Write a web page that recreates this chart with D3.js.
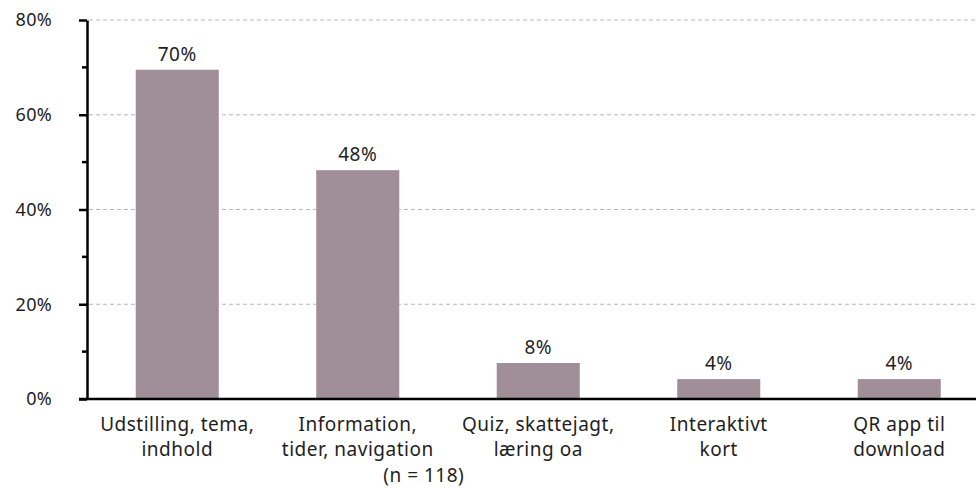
<!DOCTYPE html>
<html>
<head>
<meta charset="utf-8">
<script src="https://cdn.jsdelivr.net/npm/d3@7"></script>
<style>
  body { margin: 0; background: #fff; }
  svg text { font-family: 'Noto Sans', sans-serif; fill: #1e1e1e; }
</style>
</head>
<body>
<svg id="chart" width="976" height="488"></svg>
<script>
// categories (two-line labels) and shares of respondents, n = 118
const categories = [
  ['Udstilling, tema,', 'indhold'],
  ['Information,', 'tider, navigation'],
  ['Quiz, skattejagt,', 'læring oa'],
  ['Interaktivt', 'kort'],
  ['QR app til', 'download']
]
const values = [69.5, 48.3, 7.6, 4.2, 4.2]
const valueLabels = ['70%', '48%', '8%', '4%', '4%']
const majorTicks = [0, 20, 40, 60, 80]
const minorTicks = [10, 30, 50, 70]
const note = '(n = 118)'

const svg = d3.select('#chart')
const width = +svg.attr('width')
const plotLeft = 87
const plotTop = 20
const plotBottom = 399
const fontSize = 19

const x = d3.scaleBand()
  .domain(d3.range(categories.length))
  .range([plotLeft, 989.5])
  .paddingInner(0.54)
  .paddingOuter(0.27)

const y = d3.scaleLinear()
  .domain([0, 80])
  .range([plotBottom, plotTop])

// dashed gridlines
svg.append('g')
  .selectAll('line')
  .data(majorTicks.filter(d => d > 0))
  .enter().append('line')
  .attr('x1', plotLeft + 2)
  .attr('x2', width)
  .attr('y1', d => y(d))
  .attr('y2', d => y(d))
  .attr('stroke', '#b8b8b8')
  .attr('stroke-width', 1)
  .attr('stroke-dasharray', '4,3')

// bars
svg.append('g')
  .selectAll('rect')
  .data(values)
  .enter().append('rect')
  .attr('x', (d, i) => x(i))
  .attr('y', d => y(d))
  .attr('width', x.bandwidth())
  .attr('height', d => y(0) - y(d))
  .attr('fill', '#a08e98')

// value labels
svg.append('g')
  .selectAll('text')
  .data(values)
  .enter().append('text')
  .attr('x', (d, i) => x(i) + x.bandwidth() / 2)
  .attr('y', d => y(d) - 9)
  .attr('text-anchor', 'middle')
  .attr('font-size', 19)
  .attr('letter-spacing', 0.5)
  .text((d, i) => valueLabels[i])

// y axis with major and minor ticks
const yAxis = svg.append('g')
  .attr('transform', 'translate(' + plotLeft + ',0)')
  .call(d3.axisLeft(y).tickValues(majorTicks).tickFormat(d => d + '%').tickSize(8).tickSizeOuter(0))
yAxis.select('.domain').attr('stroke', '#000').attr('stroke-width', 2.5)
yAxis.selectAll('.tick line').attr('stroke', '#000').attr('stroke-width', 2.5)
yAxis.selectAll('.tick text')
  .attr('x', -35)
  .attr('font-size', 18)
  .attr('letter-spacing', 0.3)
  .attr('font-family', "'Noto Sans', sans-serif")
  .attr('fill', '#1e1e1e')

svg.append('g')
  .selectAll('line')
  .data(minorTicks)
  .enter().append('line')
  .attr('x1', plotLeft - 5)
  .attr('x2', plotLeft)
  .attr('y1', d => y(d))
  .attr('y2', d => y(d))
  .attr('stroke', '#000')
  .attr('stroke-width', 2.5)

// baseline
svg.append('line')
  .attr('x1', plotLeft - 8)
  .attr('x2', width)
  .attr('y1', y(0))
  .attr('y2', y(0))
  .attr('stroke', '#000')
  .attr('stroke-width', 2.5)

// category labels
const cat = svg.append('g')
  .selectAll('text')
  .data(categories)
  .enter().append('text')
  .attr('text-anchor', 'middle')
  .attr('font-size', fontSize)
  .attr('letter-spacing', 0.5)
cat.selectAll('tspan')
  .data((d, i) => d.map(line => ({ line: line, i: i })))
  .enter().append('tspan')
  .attr('x', d => x(d.i) + x.bandwidth() / 2)
  .attr('y', (d, j) => 431 + j * 25)
  .text(d => d.line)

svg.append('text')
  .attr('x', x(1) + x.bandwidth() / 2 + 66)
  .attr('y', 482)
  .attr('text-anchor', 'middle')
  .attr('font-size', fontSize)
  .attr('letter-spacing', 0.5)
  .text(note)
</script>
</body>
</html>
